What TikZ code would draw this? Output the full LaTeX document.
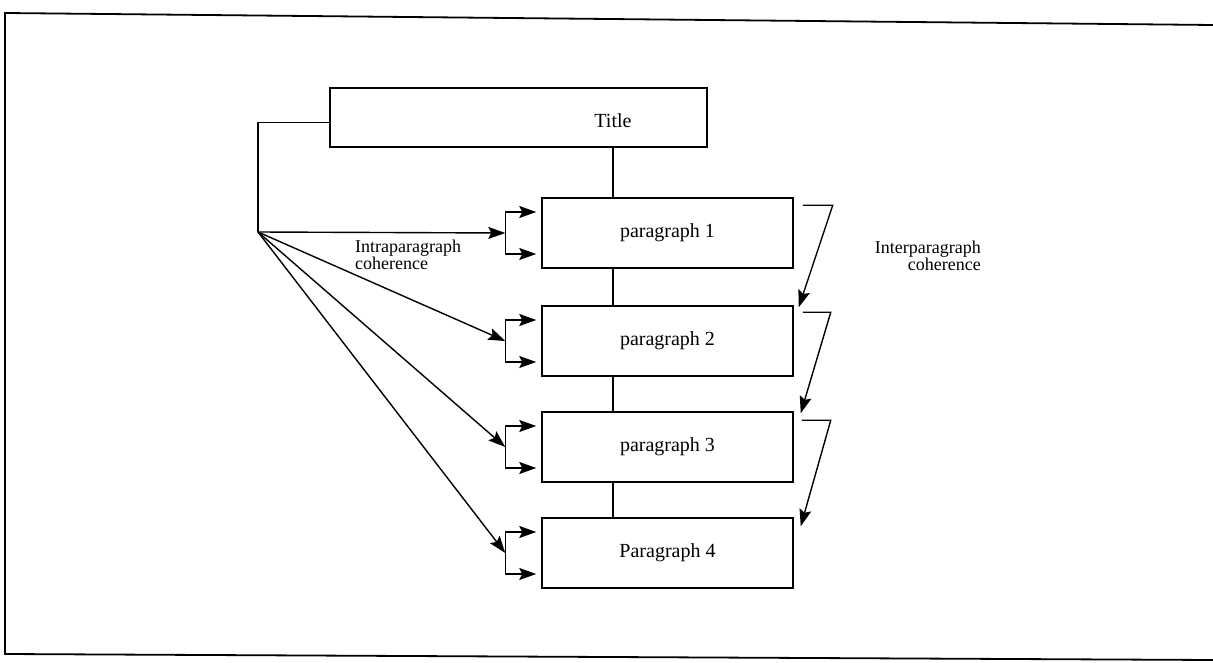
\documentclass[tikz,border=0pt]{standalone}
\usepackage{fontspec}
\setmainfont{Liberation Serif}
\usetikzlibrary{arrows.meta,calc}

\tikzset{
  box/.style={draw, line width=1.5pt, inner sep=0pt},
  boxtext/.style={font=\fontsize{20}{20}\selectfont},
  note/.style={font=\fontsize{18}{17}\selectfont, inner sep=0pt},
  link/.style={line width=1.4pt},
  arr/.style={link, -{Stealth[length=17pt, width=12pt, inset=3pt]}},
  frame/.style={line width=1.8pt}
}

\begin{document}
\begin{tikzpicture}[x=1pt, y=-1pt]
  \useasboundingbox (0,0) rectangle (1213,663);

  % page frame (open on the right)
  \coordinate (ftr) at (1213,25);
  \coordinate (ftl) at (5,13);
  \coordinate (fbl) at (5,654);
  \coordinate (fbr) at (1213,660);
  \draw[frame] (ftr) -- (ftl) -- (fbl) -- (fbr);

  % spine joining title and paragraphs
  \coordinate (spine) at (613,0);

  % title and paragraph boxes
  \node[box, minimum width=377pt, minimum height=59pt] (title) at (518.5,117.5) {};
  \node[boxtext] (titletext) at ($(title.center -| spine)+(0,-3pt)$) {Title};

  \node[box, boxtext, minimum width=251pt, minimum height=70pt] (p1) at (667.5,233) {paragraph 1};
  \node[box, boxtext, minimum width=251pt, minimum height=70pt] (p2) at (667.5,341) {paragraph 2};
  \node[box, boxtext, minimum width=251pt, minimum height=70pt] (p3) at (667.5,447) {paragraph 3};
  \node[box, boxtext, minimum width=251pt, minimum height=70pt] (p4) at (667.5,553) {Paragraph 4};

  \draw[link] (title.south -| spine) -- (p1.north -| spine);
  \draw[link] (p1.south -| spine) -- (p2.north -| spine);
  \draw[link] (p2.south -| spine) -- (p3.north -| spine);
  \draw[link] (p3.south -| spine) -- (p4.north -| spine);

  % intraparagraph links: hub fans out to a fork in front of each paragraph
  \coordinate (hub) at (258,232);
  \draw[link] ([yshift=-5pt]title.west) -| (hub);

  \foreach \p in {p1,p2,p3,p4} {
    \coordinate (fork-\p) at ($(\p.west)+(-36pt,0)$);
    \draw[arr] (hub) -- (fork-\p);
    \draw[arr] (fork-\p) |- ($(\p.west)+(-5pt,21pt)$);
    \draw[arr] (fork-\p) |- ($(\p.west)+(-5pt,-21pt)$);
  }

  \node[note, anchor=north west, align=left] (intra) at (355,240)
    {Intraparagraph\\coherence};

  % interparagraph links: from each paragraph to the next one
  \draw[arr] ($(p1.north east)+(9pt,-8pt)$) -- ($(p1.north east)+(39pt,-8pt)$)
    -- ($(p2.north east)+(5pt,-2pt)$);
  \draw[arr] ($(p2.north east)+(9pt,-7pt)$) -- ($(p2.north east)+(37pt,-7pt)$)
    -- ($(p3.north east)+(7pt,-2pt)$);
  \draw[arr] ($(p3.north east)+(8pt,-9pt)$) -- ($(p3.north east)+(37pt,-9pt)$)
    -- ($(p4.north east)+(7pt,-9pt)$);

  \node[note, anchor=north east, align=right] (inter) at (981,241)
    {Interparagraph\\coherence};
\end{tikzpicture}
\end{document}
